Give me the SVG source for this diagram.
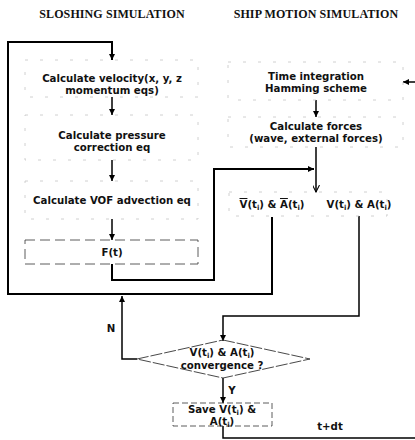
<svg xmlns="http://www.w3.org/2000/svg" width="415" height="440" viewBox="0 0 415 440">
<style>
.t{font-family:"DejaVu Sans","Verdana",sans-serif;font-weight:bold;font-size:10.2px;fill:#111;text-anchor:middle}
.h{font-family:"Liberation Serif","Times New Roman",serif;font-weight:bold;font-size:12px;letter-spacing:0.1px;fill:#111;text-anchor:middle}
.s{font-size:7px}
.faint{fill:none;stroke:#c4c4c4;stroke-width:0.8;stroke-dasharray:3 12}
.box{fill:none;stroke:#333;stroke-width:0.8;stroke-dasharray:10 5}
.ln{fill:none;stroke:#000;stroke-width:1.5}
.thick{fill:none;stroke:#000;stroke-width:2}
.ov{text-decoration:overline}
</style>
<defs>
<marker id="a" viewBox="0 0 10 10" refX="10" refY="5" markerWidth="7" markerHeight="6" markerUnits="userSpaceOnUse" orient="auto">
<path d="M0,0 L10,5 L0,10 z" fill="#000"/>
</marker>
<marker id="o" viewBox="0 0 10 10" refX="10" refY="5" markerWidth="8" markerHeight="7" markerUnits="userSpaceOnUse" orient="auto">
<path d="M0,0 L10,5 L0,10" fill="none" stroke="#000" stroke-width="1.5"/>
</marker>
</defs>

<text class="h" x="112" y="18">SLOSHING SIMULATION</text>
<text class="h" x="316" y="18">SHIP MOTION SIMULATION</text>

<g id="connectors">
<polyline class="thick" points="272,217 272,294 8,294 8,42 112,42 112,60" marker-end="url(#a)"/>
<polyline class="thick" points="112,264 112,280 214,280 214,169 314,169" marker-end="url(#a)"/>
<line class="ln" x1="112" y1="97" x2="112" y2="115" marker-end="url(#a)"/>
<line class="ln" x1="112" y1="160" x2="112" y2="181" marker-end="url(#a)"/>
<line class="ln" x1="112" y1="219" x2="112" y2="240" marker-end="url(#a)"/>
<line class="ln" x1="316" y1="100" x2="316" y2="117" marker-end="url(#a)"/>
<line class="ln" x1="316" y1="147" x2="316" y2="192" marker-end="url(#o)"/>
<polyline class="ln" points="359,216 359,316 223,316 223,341" marker-end="url(#a)"/>
<polyline class="ln" points="137,359 122,359 122,296" marker-end="url(#a)"/>
<line class="ln" x1="223" y1="378" x2="223" y2="403" marker-end="url(#a)"/>
<polyline class="ln" points="223,426 223,438 415,438"/>
<line class="ln" x1="415" y1="82" x2="403" y2="82" marker-end="url(#a)"/>
<text class="t" x="111" y="332">N</text>
<text class="t" x="232" y="394">Y</text>
<text class="t" x="330" y="430">t+dt</text>
</g>

<g id="velocity">
<rect class="faint" x="25" y="60" width="173" height="37"/>
<text class="t" x="112" y="82">Calculate velocity(x, y, z</text>
<text class="t" x="112" y="94">momentum eqs)</text>
</g>
<g id="pressure">
<rect class="faint" x="25" y="115" width="173" height="45"/>
<text class="t" x="112" y="139">Calculate pressure</text>
<text class="t" x="112" y="151">correction eq</text>
</g>
<g id="vof">
<rect class="faint" x="25" y="181" width="173" height="38"/>
<text class="t" x="112" y="204">Calculate VOF advection eq</text>
</g>
<g id="ft">
<rect class="box" x="25" y="240" width="173" height="24"/>
<text class="t" x="112" y="256">F(t)</text>
</g>

<g id="timeint">
<rect class="faint" x="228" y="62" width="175" height="38"/>
<text class="t" x="316" y="80">Time integration</text>
<text class="t" x="316" y="92">Hamming scheme</text>
</g>
<g id="forces">
<rect class="faint" x="228" y="117" width="175" height="30"/>
<text class="t" x="316" y="130">Calculate forces</text>
<text class="t" x="316" y="142">(wave, external forces)</text>
</g>
<g id="va">
<rect class="faint" x="229" y="192" width="158" height="24"/>
<text class="t" x="272" y="208"><tspan class="ov">V</tspan>(t<tspan class="s" dy="2">i</tspan><tspan dy="-2">) &amp; </tspan><tspan class="ov">A</tspan>(t<tspan class="s" dy="2">i</tspan><tspan dy="-2">)</tspan></text>
<text class="t" x="359" y="208">V(t<tspan class="s" dy="2">i</tspan><tspan dy="-2">) &amp; A(t</tspan><tspan class="s" dy="2">i</tspan><tspan dy="-2">)</tspan></text>
</g>

<g id="convergence">
<polygon points="223,340 310,359 223,378 137,359" fill="none" stroke="#333" stroke-width="0.9" stroke-dasharray="12 2"/>
<text class="t" x="222" y="356">V(t<tspan class="s" dy="2">i</tspan><tspan dy="-2">) &amp; A(t</tspan><tspan class="s" dy="2">i</tspan><tspan dy="-2">)</tspan></text>
<text class="t" x="222" y="369">convergence ?</text>
</g>

<g id="save">
<rect x="173" y="403" width="99" height="23" fill="none" stroke="#333" stroke-width="0.8" stroke-dasharray="6 3"/>
<text class="t" x="222" y="413">Save V(t<tspan class="s" dy="2">i</tspan><tspan dy="-2">) &amp;</tspan></text>
<text class="t" x="222" y="425">A(t<tspan class="s" dy="2">i</tspan><tspan dy="-2">)</tspan></text>
</g>
</svg>
